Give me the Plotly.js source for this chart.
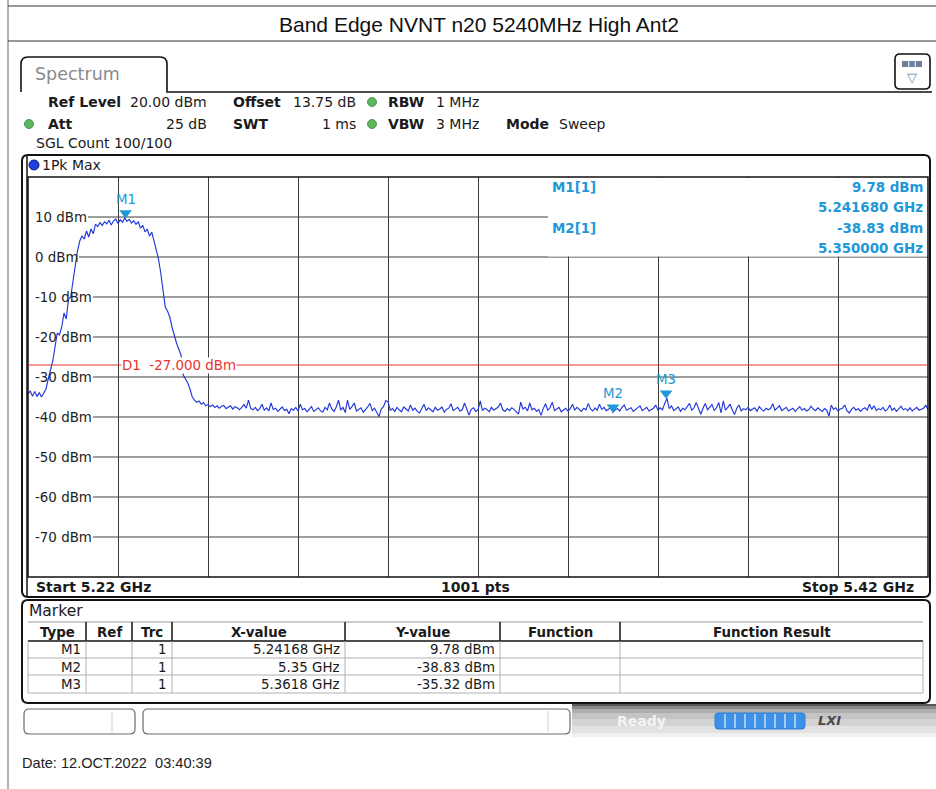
<!DOCTYPE html>
<html><head><meta charset="utf-8">
<script src="https://cdn.plot.ly/plotly-3.0.1.min.js"></script>
<style>html,body{margin:0;padding:0;background:#fff}#chart{width:936px;height:789px}</style>
</head><body><div id="chart"></div>
<script>
// ---------------- data ----------------
const chartTitle = 'Band Edge NVNT n20 5240MHz High Ant2';
const dateText = 'Date: 12.OCT.2022  03:40:39';
const sweepStartGHz = 5.22;
const sweepStopGHz = 5.42;
const sweepStepGHz = 0.0005;   // spacing of the values read below
const sweepPointsLabel = 1001;
const traceDbm = [
-34.2,-33.5,-34.8,-33.6,-34.9,-33.9,-35.0,-34.1,-33.0,-30.5,
-28.5,-26.0,-22.5,-19.0,-19.5,-17.5,-14.0,-15.5,-10.5,-10.0,
-6.0,-2.0,1.5,4.0,5.2,4.5,6.5,5.0,7.0,5.8,
8.2,7.6,8.6,7.9,8.8,8.3,9.2,8.0,9.0,9.5,
8.4,9.3,8.7,9.78,8.9,9.4,8.5,9.1,8.2,8.8,
7.2,7.9,6.3,7.0,5.2,6.2,4.0,2.0,-0.5,-4.0,
-9.0,-12.5,-13.5,-15.0,-17.5,-19.8,-21.5,-23.0,-24.5,-29.5,
-30.5,-31.5,-33.0,-35.0,-35.8,-36.3,-36.0,-36.8,-36.4,-37.2,
-36.9,-37.4,-37.0,-37.6,-37.2,-37.8,-37.3,-37.1,-37.9,-37.5,
-37.2,-38.0,-37.4,-37.7,-38.2,-37.6,-36.9,-37.8,-35.8,-37.9,
-38.2,-37.6,-38.4,-37.9,-36.8,-38.3,-37.7,-38.5,-36.5,-38.1,
-37.8,-38.6,-38.0,-37.5,-38.4,-38.1,-39.2,-37.9,-38.3,-37.6,
-38.5,-36.8,-38.2,-37.9,-38.7,-38.0,-37.4,-38.6,-38.1,-37.7,
-38.4,-38.8,-37.6,-38.2,-36.5,-38.0,-38.6,-37.5,-35.8,-38.3,
-37.6,-38.9,-35.8,-38.1,-37.4,-36.5,-38.5,-38.0,-37.7,-38.8,
-38.2,-37.5,-36.6,-38.4,-37.8,-38.9,-39.9,-38.0,-37.4,-35.9,
-36.2,-38.3,-37.9,-38.6,-37.6,-38.2,-38.7,-37.5,-38.1,-38.5,
-37.0,-38.3,-37.8,-38.6,-39.0,-38.0,-36.8,-38.4,-37.7,-38.2,
-38.7,-37.6,-38.3,-38.0,-37.5,-38.8,-38.1,-37.8,-36.7,-38.4,
-38.0,-37.6,-38.5,-38.2,-36.5,-37.9,-39.5,-38.1,-37.7,-38.6,
-38.2,-36.0,-38.4,-37.8,-38.1,-38.7,-37.6,-38.3,-38.0,-37.5,
-36.5,-38.2,-38.6,-37.9,-38.4,-37.7,-38.1,-38.8,-39.3,-36.3,
-38.0,-37.6,-38.5,-36.5,-38.2,-37.8,-38.6,-38.1,-39.6,-37.9,
-36.7,-38.3,-37.7,-36.3,-38.4,-38.0,-37.6,-38.7,-38.2,-37.8,
-38.5,-37.9,-36.8,-38.3,-37.6,-38.1,-38.6,-37.8,-38.2,-36.6,
-38.0,-38.5,-37.7,-38.3,-36.8,-38.1,-37.6,-38.4,-38.0,-37.7,
-38.83,-38.2,-37.9,-38.5,-37.6,-37.0,-38.3,-38.0,-37.7,-38.6,
-38.1,-37.8,-37.2,-38.4,-38.0,-37.6,-38.5,-38.1,-37.8,-37.0,
-38.3,-37.7,-38.2,-36.6,-35.32,-37.9,-37.2,-38.4,-38.0,-37.5,
-38.6,-37.8,-38.2,-37.4,-36.6,-38.3,-37.7,-36.4,-38.1,-39.3,
-37.8,-36.6,-38.2,-37.6,-36.9,-38.4,-37.7,-36.4,-39.0,-36.0,
-38.3,-37.6,-36.8,-38.2,-39.4,-37.8,-37.0,-38.5,-37.9,-38.2,
-37.6,-38.4,-38.0,-37.7,-38.6,-37.4,-38.1,-38.5,-37.8,-38.2,
-37.9,-36.7,-38.3,-37.8,-37.2,-38.4,-38.0,-37.6,-38.5,-38.1,
-37.8,-38.6,-38.0,-37.4,-38.3,-37.9,-38.5,-38.2,-37.3,-38.0,
-38.4,-37.7,-38.2,-38.6,-37.9,-38.3,-39.8,-37.0,-38.1,-37.7,
-38.5,-38.0,-37.8,-37.0,-38.4,-39.0,-38.1,-37.6,-38.3,-37.9,
-38.6,-38.0,-37.7,-38.3,-36.8,-38.1,-37.2,-38.4,-37.9,-38.2,
-37.6,-38.5,-38.1,-37.0,-38.3,-37.8,-38.6,-38.0,-37.3,-38.2,
-37.9,-38.4,-37.7,-38.5,-38.0,-37.6,-38.3,-38.1,-37.8,-37.1,
-38.2
];
const yRange = [-80, 20];
const yTickVals = [10, 0, -10, -20, -30, -40, -50, -60, -70];
const yTickLabels = ['10 dBm','0 dBm','-10 dBm','-20 dBm','-30 dBm','-40 dBm','-50 dBm','-60 dBm','-70 dBm'];
const xGridStepGHz = 0.02;
const markerNames = ['M1', 'M2', 'M3'];
const markerX = [5.24168, 5.35, 5.3618];
const markerY = [9.78, -38.83, -35.32];
const markerTrc = [1, 1, 1];
const markerXLabels = ['5.24168 GHz', '5.35 GHz', '5.3618 GHz'];
const markerInfoFreq = ['5.241680 GHz', '5.350000 GHz'];
const displayLineName = 'D1';
const displayLineDbm = -27;
const headerRow1 = [['Ref Level','20.00 dBm'],['Offset','13.75 dB'],['RBW','1 MHz']];
const headerRow2 = [['Att','25 dB'],['SWT','1 ms'],['VBW','3 MHz'],['Mode','Sweep']];
const sglCountText = 'SGL Count 100/100';
const traceLabel = '1Pk Max';
const tableHeaders = ['Type','Ref','Trc','X-value','Y-value','Function','Function Result'];

// ---------------- helpers (pixel -> paper) ----------------
const W = 936, H = 789;
const X = p => p / W;
const Y = p => 1 - p / H;
const FONT = 'DejaVu Sans, Verdana, sans-serif';
const ARIAL = 'Liberation Sans, Arial, sans-serif';
const ann = [];
const shp = [];
function txt(x, y, text, o) {
  o = o || {};
  ann.push({xref:'paper', yref:'paper', x:X(x), y:Y(y), text:text, showarrow:false,
    xanchor:o.xa||'left', yanchor:'middle', borderpad:0,
    bgcolor:o.bg||'rgba(0,0,0,0)',
    font:{family:o.family||FONT, size:o.size||14, color:o.color||'#1a1a1a'}});
}
function line(x0,y0,x1,y1,color,width){
  shp.push({type:'line',xref:'paper',yref:'paper',x0:X(x0),y0:Y(y0),x1:X(x1),y1:Y(y1),
    line:{color:color||'#000',width:width||1}});
}
function rect(x0,y0,x1,y1,fill,lc,lw){
  shp.push({type:'rect',xref:'paper',yref:'paper',x0:X(x0),y0:Y(y0),x1:X(x1),y1:Y(y1),
    fillcolor:fill||'rgba(0,0,0,0)',line:{color:lc||'rgba(0,0,0,0)',width:lw||0}});
}
function circ(cx,cy,r,fill,lc){
  shp.push({type:'circle',xref:'paper',yref:'paper',x0:X(cx-r),y0:Y(cy-r),x1:X(cx+r),y1:Y(cy+r),
    fillcolor:fill,line:{color:lc||fill,width:1}});
}
function rrect(x0,y0,x1,y1,r,lc,lw,fill){
  const p = (a,b)=>X(a)+','+Y(b);
  const d = 'M'+p(x0+r,y0)+' L'+p(x1-r,y0)+' Q'+p(x1,y0)+' '+p(x1,y0+r)+
    ' L'+p(x1,y1-r)+' Q'+p(x1,y1)+' '+p(x1-r,y1)+' L'+p(x0+r,y1)+' Q'+p(x0,y1)+' '+p(x0,y1-r)+
    ' L'+p(x0,y0+r)+' Q'+p(x0,y0)+' '+p(x0+r,y0)+' Z';
  shp.push({type:'path',xref:'paper',yref:'paper',path:d,fillcolor:fill||'rgba(0,0,0,0)',
    line:{color:lc||'#000',width:lw||1}});
}

const PL = 28, PR = 928, PT = 177, PB = 577;

// ---------------- page frame & title ----------------
line(8, 0, 8, H, '#666', 1);
line(8, 6, W, 6, '#333', 1);
line(8, 41, W, 41, '#333', 1);
txt(479, 24, chartTitle, {xa:'center', family:ARIAL, size:21, color:'#111'});
txt(21, 763, dateText, {family:ARIAL, size:14.6, color:'#222'});

// ---------------- instrument header ----------------
shp.push({type:'path',xref:'paper',yref:'paper',
  path:'M'+X(21)+','+Y(92)+' L'+X(21)+','+Y(64)+' Q'+X(21)+','+Y(57)+' '+X(28)+','+Y(57)+
       ' L'+X(160)+','+Y(57)+' Q'+X(167)+','+Y(57)+' '+X(167)+','+Y(64)+' L'+X(167)+','+Y(92)+' L'+X(932)+','+Y(92),
  line:{color:'#111',width:1.6}});
txt(34, 74, 'Spectrum', {size:17.5, color:'#8a8a8a'});
rrect(895, 54, 930, 89, 5, '#111', 1.6, '#fff');
rect(902, 61, 922, 67, '#6d7f9a');
line(908.7, 61, 908.7, 67, '#fff', 1);
line(915.3, 61, 915.3, 67, '#fff', 1);
txt(912, 77, '▽', {xa:'center', size:13, color:'#6d7f9a'});

const hdrX = [[47,208],[232,357],[387,435],[505,558]];
headerRow1.forEach((h,i)=>{
  txt(hdrX[i][0], 102, '<b>'+h[0]+'</b>', {size:14});
  if (i===2) txt(hdrX[i][1], 102, h[1], {size:14});
  else txt(hdrX[i][1], 102, h[1], {size:14, xa:'right'});
});
headerRow2.forEach((h,i)=>{
  txt(hdrX[i][0], 124, '<b>'+h[0]+'</b>', {size:14});
  if (i>=2) txt(hdrX[i][1], 124, h[1], {size:14});
  else txt(hdrX[i][1], 124, h[1], {size:14, xa:'right'});
});
circ(372, 102, 4.5, '#5fb55f', '#4a9a4a');
circ(372, 124, 4.5, '#5fb55f', '#4a9a4a');
circ(29, 124, 4.5, '#5fb55f', '#4a9a4a');
txt(35, 143, sglCountText, {size:14});

rrect(22, 155, 930, 597, 6, '#111', 2);
line(27, 155, 27, 597, '#111', 1.5);
circ(34, 165, 5, '#1f3fe0', '#0d1f80');
txt(41, 165, traceLabel, {size:14});

rect(PL, PT, PR, PB, 'rgba(0,0,0,0)', '#111', 1.5);
rect(548, PT+1, PR-1, 256.5, '#fff');

const labelEnd = {'10 dBm':88, '0 dBm':79};
yTickVals.forEach((v,i)=>{
  const x0 = labelEnd[yTickLabels[i]] || 93;
  const x1 = v === 10 ? 548 : PR;
  shp.push({type:'line', xref:'paper', yref:'y', x0:X(x0), x1:X(x1), y0:v, y1:v,
    line:{color:'#3c3c3c', width:1}, layer:'below'});
  ann.push({xref:'paper', yref:'y', x:X(34), y:v, text:yTickLabels[i], showarrow:false,
    xanchor:'left', yanchor:'middle', borderpad:0, font:{family:FONT, size:13.4, color:'#222'}});
});

shp.push({type:'line', xref:'paper', yref:'y', x0:X(PL), x1:X(PR), y0:displayLineDbm, y1:displayLineDbm,
  line:{color:'#e8332f', width:1}});
ann.push({xref:'paper', yref:'y', x:X(121), y:displayLineDbm,
  text:displayLineName+'  '+displayLineDbm.toFixed(3)+' dBm', showarrow:false,
  xanchor:'left', yanchor:'middle', bgcolor:'#fff', borderpad:0,
  font:{family:FONT, size:13.4, color:'#e8332f'}});

const MK = '#1e98d8';
markerNames.forEach((n,i)=>{
  ann.push({xref:'x', yref:'y', x:markerX[i], y:markerY[i], text:n, showarrow:false,
    xanchor:'center', yanchor:'bottom', yshift:10, borderpad:0,
    font:{family:FONT, size:13.4, color:MK}});
});

[0,1].forEach(i=>{
  const y0 = i===0 ? 187 : 228;
  txt(551, y0, '<b>'+markerNames[i]+'['+markerTrc[i]+']</b>', {size:13.4, color:MK});
  txt(924, y0, '<b>'+markerY[i].toFixed(2)+' dBm</b>', {size:13.4, color:MK, xa:'right'});
  txt(924, y0+20, '<b>'+markerInfoFreq[i]+'</b>', {size:13.4, color:MK, xa:'right'});
});

txt(35, 587, '<b>Start '+sweepStartGHz+' GHz</b>', {size:14});
txt(475, 587, '<b>'+sweepPointsLabel+' pts</b>', {size:14, xa:'center'});
txt(915, 587, '<b>Stop '+sweepStopGHz+' GHz</b>', {size:14, xa:'right'});

// ---------------- marker table ----------------
rrect(22, 600, 930, 703, 6, '#111', 2);
txt(28, 611, 'Marker', {size:15.5});
const colE = [28, 86, 132, 172, 345, 500, 620, 923];
line(28, 622, 923, 622, '#9a9a9a', 1);
line(28, 641, 923, 641, '#111', 1.5);
[658, 675, 693].forEach(yy=>line(28, yy, 923, yy, '#b0b0b0', 1));
colE.forEach((x,i)=>{
  if (i>0 && i<colE.length-1) line(x, 622, x, 641, '#111', 1.5);
  line(x, 641, x, 693, '#b0b0b0', 1);
});
tableHeaders.forEach((h,i)=>{
  txt((colE[i]+colE[i+1])/2, 632, '<b>'+h+'</b>', {size:13.4, xa:'center'});
});
const rowY = [649, 667, 684];
markerNames.forEach((n,i)=>{
  txt(82, rowY[i], n, {size:13.4, xa:'right'});
  txt(168, rowY[i], String(markerTrc[i]), {size:13.4, xa:'right'});
  txt(341, rowY[i], markerXLabels[i], {size:13.4, xa:'right'});
  txt(496, rowY[i], markerY[i].toFixed(2)+' dBm', {size:13.4, xa:'right'});
});

// ---------------- status bar ----------------
const grads = [['#555555',704,706],['#8a8a8a',706,709],['#adadad',709,713],['#c4c4c4',713,719],['#d3d3d3',719,726],['#e2e2e2',726,733],['#f0f0f0',733,737]];
grads.forEach(g=>rect(572, g[1], W, g[2], g[0]));
rrect(24, 709, 135, 734, 5, '#6a6a6a', 1.2, '#fff');
line(112, 711, 112, 732, '#cfcfcf', 1);
rrect(143, 709, 570, 734, 5, '#6a6a6a', 1.2, '#fff');
line(548, 711, 548, 732, '#cfcfcf', 1);
txt(641, 721, '<b>Ready</b>', {size:14, color:'#f4f4f4', xa:'center'});
rrect(715, 713, 805, 729, 3, '#2f7fd6', 1, '#3d91e6');
[725, 735, 745, 755, 765, 775, 785, 795].forEach(x=>line(x, 714, x, 728, '#e8f2fc', 1.2));
txt(829, 720, '<b><i>LXI</i></b>', {size:13, color:'#4a4a4a', xa:'center'});

// ---------------- traces ----------------
const freqGHz = traceDbm.map((_, i) => +(sweepStartGHz + i * sweepStepGHz).toFixed(4));
const traces = [{
  type:'scatter', mode:'lines', x:freqGHz, y:traceDbm,
  line:{color:'#2338dc', width:1.15}, hoverinfo:'skip'
}, {
  type:'scatter', mode:'markers', x:markerX, y:markerY, cliponaxis:false,
  marker:{symbol:'triangle-up', angle:180, standoff:5, size:11, color:MK, line:{width:0}},
  hoverinfo:'skip'
}];

const layout = {
  width:W, height:H, margin:{l:0, r:0, t:0, b:0},
  paper_bgcolor:'#fff', plot_bgcolor:'#fff', showlegend:false,
  xaxis:{domain:[X(PL), X(PR)], range:[sweepStartGHz, sweepStopGHz], dtick:xGridStepGHz, tick0:sweepStartGHz,
    showticklabels:false, ticks:'', showgrid:true, gridcolor:'#3c3c3c', gridwidth:1, zeroline:false, showline:false, fixedrange:true},
  yaxis:{domain:[Y(PB), Y(PT)], range:yRange, showgrid:false, showticklabels:false, ticks:'',
    zeroline:false, showline:false, fixedrange:true},
  shapes:shp, annotations:ann
};
Plotly.newPlot('chart', traces, layout, {staticPlot:true, displayModeBar:false});
</script>
</body></html>
